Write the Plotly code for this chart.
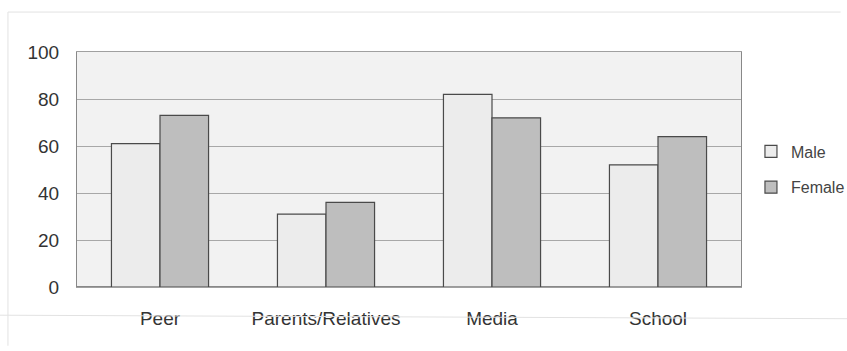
import plotly.graph_objects as go

categories = ["Peer", "Parents/Relatives", "Media", "School"]
male = [61, 31, 82, 52]
female = [73, 36, 72, 64]
y_ticks = [0, 20, 40, 60, 80, 100]

FONT = "Liberation Sans, Arial, sans-serif"

fig = go.Figure()
fig.add_trace(go.Bar(name="Male", x=categories, y=male, legendgroup="m",
                     marker=dict(color="#ececec", line=dict(color="#4a4a4a", width=1.2))))
fig.add_trace(go.Bar(name="Female", x=categories, y=female, legendgroup="f",
                     marker=dict(color="#bebebe", line=dict(color="#4a4a4a", width=1.2))))

# faint outer chart frame (scan edges)
frame = dict(type="line", xref="paper", yref="paper", line=dict(color="#e2e2e2", width=1))
fig.add_shape(**frame, x0=-0.104, x1=1.15, y0=1.17, y1=1.17)
fig.add_shape(**frame, x0=-0.104, x1=-0.104, y0=1.17, y1=-0.25)
fig.add_shape(**frame, x0=-0.116, x1=1.16, y0=-0.12, y1=-0.135)

fig.update_layout(
    width=847, height=351,
    margin=dict(l=77, r=106, t=52, b=64, autoexpand=False),
    barmode="group", bargap=0.415, bargroupgap=0,
    paper_bgcolor="white", plot_bgcolor="#f2f2f2",
    font=dict(family=FONT, size=18, color="#333333"),
    showlegend=True,
    legend=dict(x=1.015, y=0.5, xanchor="left", yanchor="middle",
                font=dict(family=FONT, size=16, color="#444444"),
                tracegroupgap=12, bgcolor="rgba(0,0,0,0)"),
    xaxis=dict(showgrid=False, showline=True, mirror=True, linecolor="#a0a0a0",
               ticks="", tickfont=dict(family=FONT, size=19), ticklabelstandoff=14),
    yaxis=dict(range=[0, 100], tickvals=y_ticks, showgrid=True, gridcolor="#a8a8a8",
               gridwidth=1, showline=True, linecolor="#888888", linewidth=1,
               mirror=True,
               zeroline=True, zerolinecolor="#888888", ticks="",
               tickfont=dict(family=FONT, size=19), ticklabelstandoff=13),
)
fig.write_html("out.html")
